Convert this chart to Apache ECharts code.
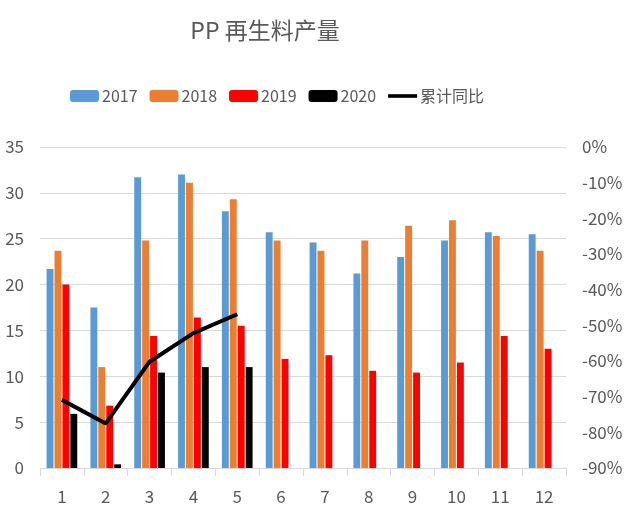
<!DOCTYPE html>
<html>
<head>
<meta charset="utf-8">
<script src="https://cdn.jsdelivr.net/npm/echarts@6/dist/echarts.min.js"></script>
<style>
html,body{margin:0;padding:0;background:#fff;}
#main{width:628px;height:508px;}
</style>
</head>
<body>
<div id="main"></div>
<script>
var months = ['1','2','3','4','5','6','7','8','9','10','11','12'];
var y2017 = [21.7, 17.5, 31.7, 32.0, 28.0, 25.7, 24.6, 21.2, 23.0, 24.8, 25.7, 25.5];
var y2018 = [23.7, 11.0, 24.8, 31.1, 29.3, 24.8, 23.7, 24.8, 26.4, 27.0, 25.3, 23.7];
var y2019 = [20.0, 6.8, 14.4, 16.4, 15.5, 11.9, 12.3, 10.6, 10.4, 11.5, 14.4, 13.0];
var y2020 = [5.9, 0.4, 10.4, 11.0, 11.0, null, null, null, null, null, null, null];
// 累计同比, %
var yoy = [-70.9, -77.5, -60.2, -52.2, -46.9, null, null, null, null, null, null, null];

var fontNarrow = '"Liberation Sans Narrow", "Noto Sans CJK SC", sans-serif';
var textColor = '#595959';

var chart = echarts.init(document.getElementById('main'));

function barSeries(name, data, color) {
    return {
        name: name,
        type: 'bar',
        data: data,
        barGap: '15%',
        barCategoryGap: '30%',
        itemStyle: {color: color},
        animation: false
    };
}

var option = {
    backgroundColor: '#fff',
    title: {
        text: 'PP 再生料产量',
        left: 260,
        top: 14,
        textAlign: 'center',
        textStyle: {
            color: textColor,
            fontSize: 23,
            fontWeight: 'normal',
            fontFamily: fontNarrow
        }
    },
    legend: {
        left: 65,
        top: 83,
        itemWidth: 29,
        itemHeight: 12,
        itemGap: 12,
        textStyle: {color: textColor, fontSize: 16, fontFamily: fontNarrow, padding: [0, 0, 0, -2]},
        data: ['2017', '2018', '2019', '2020',
            {name: '累计同比', icon: 'path://M0,0 H32 V4 H0 Z'}]
    },
    grid: {left: 40, right: 62, top: 147, bottom: 40},
    xAxis: {
        type: 'category',
        data: months,
        axisLine: {lineStyle: {color: '#D9D9D9'}},
        axisTick: {show: true, length: 8, lineStyle: {color: '#D9D9D9'}},
        axisLabel: {color: textColor, fontSize: 17, margin: 20, fontFamily: fontNarrow}
    },
    yAxis: [
        {
            type: 'value',
            min: 0,
            max: 35,
            interval: 5,
            axisLine: {show: false},
            axisTick: {show: false},
            splitLine: {lineStyle: {color: '#D9D9D9'}},
            axisLabel: {color: textColor, fontSize: 17, margin: 16, fontFamily: fontNarrow}
        },
        {
            type: 'value',
            min: -90,
            max: 0,
            interval: 10,
            axisLine: {show: false},
            axisTick: {show: false},
            splitLine: {show: false},
            axisLabel: {color: textColor, fontSize: 17, margin: 16, fontFamily: fontNarrow, formatter: '{value}%'}
        }
    ],
    series: [
        barSeries('2017', y2017, '#5B9BD5'),
        barSeries('2018', y2018, '#ED7D31'),
        barSeries('2019', y2019, '#FF0000'),
        barSeries('2020', y2020, '#000000'),
        {
            name: '累计同比',
            type: 'line',
            yAxisIndex: 1,
            data: yoy,
            symbol: 'none',
            showSymbol: false,
            lineStyle: {color: '#000', width: 4},
            itemStyle: {color: '#000'},
            animation: false
        }
    ]
};
chart.setOption(option);
</script>
</body>
</html>
